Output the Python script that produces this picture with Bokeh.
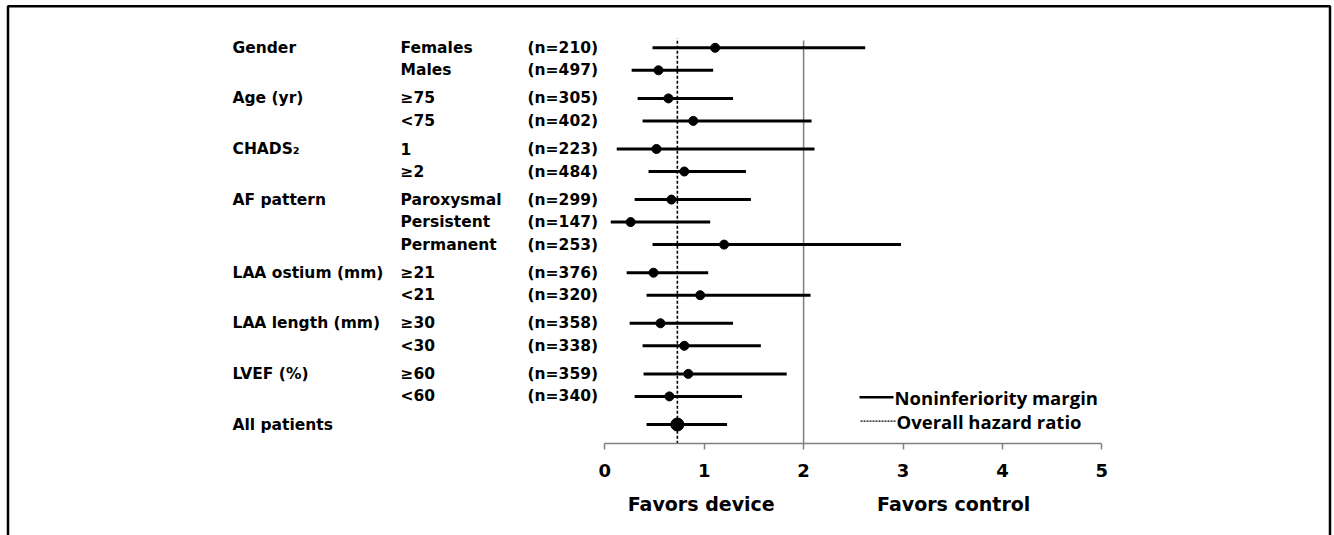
from bokeh.plotting import figure
from bokeh.models import Range1d, LinearAxis, FixedTicker
from bokeh.core.properties import value
from bokeh.embed import file_html
from bokeh.resources import INLINE

# ---------------- data ----------------
groups = ["Gender", "Age (yr)", "CHADS\u2082", "AF pattern", "LAA ostium (mm)",
          "LAA length (mm)", "LVEF (%)", "All patients"]
group_sizes = [2, 2, 2, 3, 2, 2, 2, 1]
subgroups = ["Females", "Males", "\u226575", "<75", "1", "\u22652", "Paroxysmal",
             "Persistent", "Permanent", "\u226521", "<21", "\u226530", "<30",
             "\u226560", "<60", ""]
n_counts = ["(n=210)", "(n=497)", "(n=305)", "(n=402)", "(n=223)", "(n=484)",
            "(n=299)", "(n=147)", "(n=253)", "(n=376)", "(n=320)", "(n=358)",
            "(n=338)", "(n=359)", "(n=340)", ""]
hr = [1.11, 0.54, 0.64, 0.89, 0.52, 0.80, 0.67, 0.26, 1.20, 0.49, 0.96, 0.56,
      0.80, 0.84, 0.65, 0.73]
ci_lo = [0.48, 0.27, 0.33, 0.38, 0.12, 0.44, 0.30, 0.06, 0.48, 0.22, 0.42, 0.25,
         0.38, 0.39, 0.30, 0.42]
ci_hi = [2.62, 1.09, 1.29, 2.08, 2.11, 1.42, 1.47, 1.06, 2.98, 1.04, 2.07, 1.29,
         1.57, 1.83, 1.38, 1.23]
overall_hr = 0.73
noninferiority_margin = 2.0
tick_values = [0, 1, 2, 3, 4, 5]
tick_labels = ["0", "1", "2", "3", "4", "5"]
legend_labels = ["Noninferiority margin", "Overall hazard ratio"]
side_labels = ["Favors device", "Favors control"]

# ---------------- layout ----------------
W, H = 1334, 535
SC = 99.4                    # px per unit
XS = -604.3 / SC             # data x at left edge


def dx(px):                  # pixel -> data x
    return px / SC + XS


FONT = value("DejaVu Sans")

p = figure(width=W, height=H, output_backend="svg", toolbar_location=None,
           x_range=Range1d(XS, XS + W / SC), y_range=Range1d(H, 0),
           x_axis_type=None, y_axis_type=None, min_border=0,
           background_fill_color="white", border_fill_color="white")
p.outline_line_color = None

# row positions
ys = []
group_first_y = []
row = 0
for g, size in enumerate(group_sizes):
    for k in range(size):
        y = 47.3 + 22.5 * row + 5.6 * g
        if k == 0:
            group_first_y.append(y)
        ys.append(y)
        row += 1

AXIS_Y = 443.3

# reference lines
p.segment(x0=[noninferiority_margin], x1=[noninferiority_margin], y0=[AXIS_Y], y1=[40],
          line_color="#7f7f7f", line_width=1.5)
p.segment(x0=[overall_hr], x1=[overall_hr], y0=[AXIS_Y], y1=[38],
          line_color="black", line_width=1.6, line_dash="3 2")

# CIs and points
p.segment(x0=ci_lo, x1=ci_hi, y0=ys, y1=ys, line_color="black", line_width=3)
sizes = [9] * (len(hr) - 1) + [13]
p.scatter(x=hr, y=ys, size=sizes, fill_color="black", line_color="black")

# left text columns
tkw = dict(text_font=FONT, text_font_style="bold", text_font_size=value("15.5px"),
           text_baseline="middle", text_align="left", text_color="black")
p.text(x=[dx(232)] * len(groups), y=group_first_y, text=groups, **tkw)
p.text(x=[dx(400)] * len(subgroups), y=ys, text=subgroups, **tkw)
p.text(x=[dx(527)] * len(n_counts), y=ys, text=n_counts, **tkw)

# x axis
xaxis = LinearAxis(fixed_location=AXIS_Y, bounds=(0, 5),
                   ticker=FixedTicker(ticks=tick_values),
                   major_label_overrides={v: l for v, l in zip(tick_values, tick_labels)})
xaxis.axis_line_color = "#808080"
xaxis.axis_line_width = 1.5
xaxis.major_tick_line_color = "#808080"
xaxis.major_tick_line_width = 1.5
xaxis.major_tick_out = 6
xaxis.major_tick_in = 0
xaxis.minor_tick_out = 0
xaxis.minor_tick_in = 0
xaxis.major_label_standoff = 14
xaxis.major_label_text_font = "DejaVu Sans"
xaxis.major_label_text_font_style = "bold"
xaxis.major_label_text_font_size = "18px"
xaxis.major_label_text_color = "black"
p.add_layout(xaxis, "below")

# favors labels
p.text(x=[0.97, 3.51], y=[503, 503], text=side_labels, text_font=FONT,
       text_font_style="bold", text_font_size=value("19px"),
       text_baseline="middle", text_align="center", text_color="black")

# legend (drawn manually)
p.segment(x0=[dx(859)], x1=[dx(893)], y0=[396.7], y1=[396.7],
          line_color="black", line_width=2.5)
p.segment(x0=[dx(860)], x1=[dx(895)], y0=[420.7], y1=[420.7],
          line_color="black", line_width=1.3, line_dash="2 1")
p.text(x=[dx(894), dx(896)], y=[397, 421], text=legend_labels, text_font=value("Open Sans"),
       text_font_style="bold", text_font_size=value("18.5px"),
       text_baseline="middle", text_align="left", text_color="black")

# frame border (top, left, right)
p.line(x=[dx(7.5), dx(7.5), dx(1329.5), dx(1329.5)],
       y=[535, 5.8, 5.8, 535], line_color="black", line_width=2.5)

open("out.html", "w").write(file_html(p, INLINE))
